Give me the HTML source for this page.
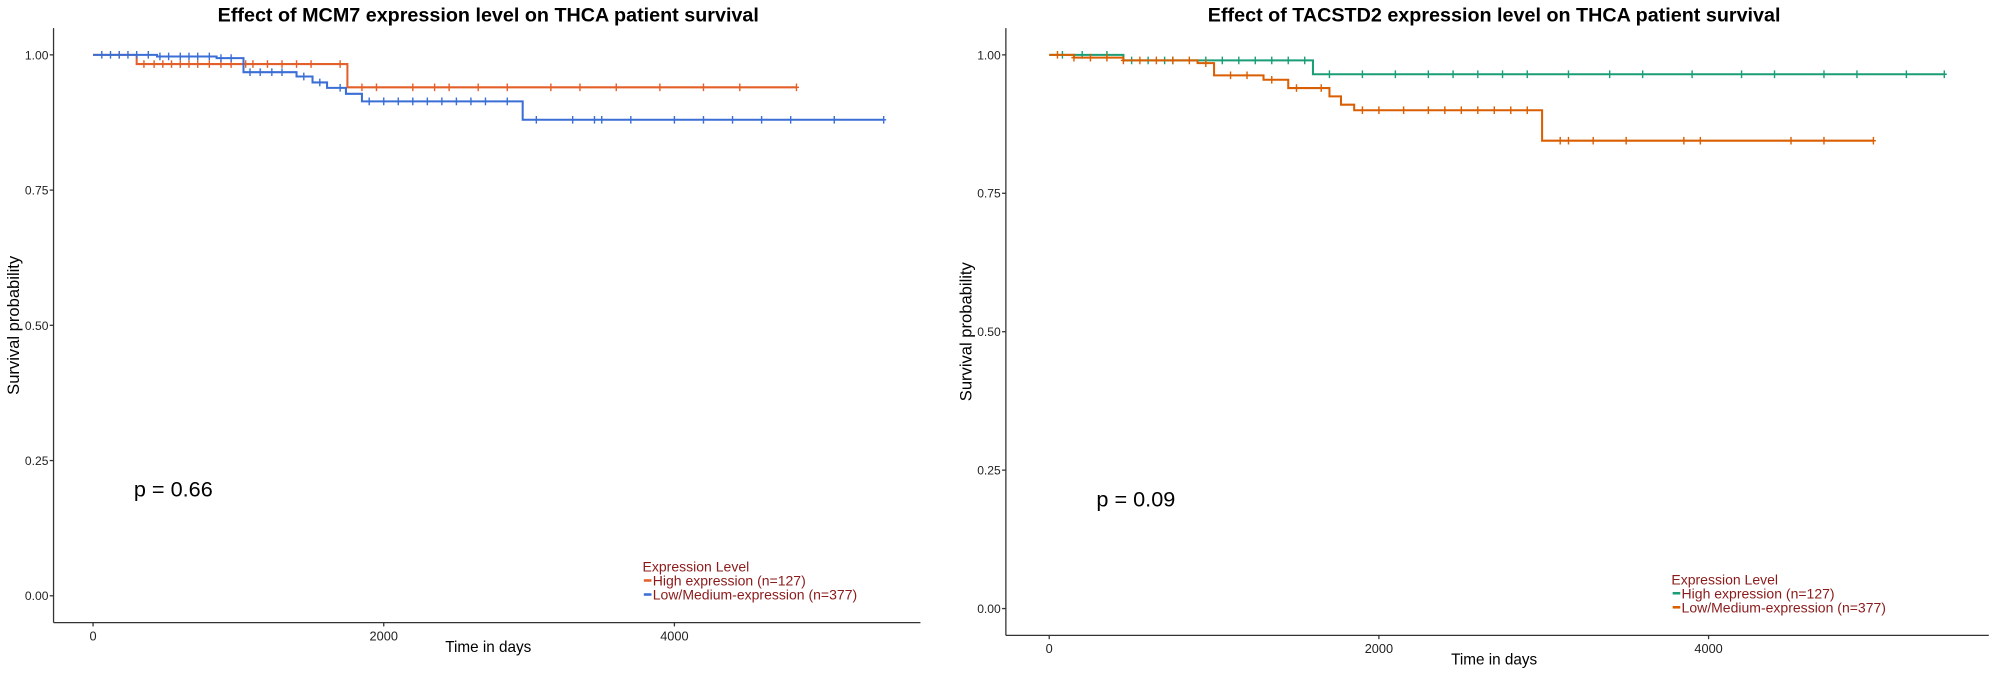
<!DOCTYPE html>
<html><head><meta charset="utf-8"><style>
html,body{margin:0;padding:0;background:#fff;width:1999px;height:680px;overflow:hidden;font-family:"Liberation Sans",sans-serif;}
</style></head><body>
<svg id="chart" width="1999" height="680" viewBox="0 0 1568 533" preserveAspectRatio="none" xmlns="http://www.w3.org/2000/svg" font-family="Liberation Sans, sans-serif"></svg>
<script>
// ---- Data ----
const yTicks = [0, 0.25, 0.5, 0.75, 1.0];
const yTickLabels = ["0.00", "0.25", "0.50", "0.75", "1.00"];
const xTicks = [0, 2000, 4000];
const xTickLabels = ["0", "2000", "4000"];

// Left panel (MCM7)
const mcmHighTimes = [0, 300, 1750, 4840];
const mcmHighSurv = [1.0, 0.983, 0.94, 0.94];
const mcmHighCensor = [180, 350, 420, 480, 540, 600, 660, 720, 800, 880, 950, 1050, 1100, 1200, 1300, 1400, 1500, 1700, 1850, 1950, 2200, 2350, 2450, 2650, 2850, 3150, 3350, 3600, 3900, 4200, 4450, 4840];
const mcmLowTimes = [0, 440, 850, 1035, 1400, 1510, 1610, 1740, 1850, 2956, 5440];
const mcmLowSurv = [1.0, 0.997, 0.994, 0.968, 0.96, 0.949, 0.939, 0.928, 0.914, 0.88, 0.88];
const mcmLowCensor = [60, 120, 180, 240, 300, 380, 460, 520, 600, 660, 720, 800, 880, 950, 1080, 1150, 1230, 1300, 1450, 1560, 1700, 1900, 2000, 2100, 2200, 2300, 2400, 2500, 2600, 2700, 2850, 3050, 3300, 3450, 3500, 3700, 4000, 4200, 4400, 4600, 4800, 5100, 5440];

// Right panel (TACSTD2)
const tacHighTimes = [0, 450, 1600, 5430];
const tacHighSurv = [1.0, 0.99, 0.965, 0.965];
const tacHighCensor = [80, 200, 350, 500, 600, 700, 750, 950, 1050, 1150, 1250, 1350, 1450, 1550, 1700, 1900, 2100, 2300, 2450, 2600, 2750, 2900, 3150, 3400, 3600, 3900, 4200, 4400, 4700, 4900, 5200, 5430];
const tacLowTimes = [0, 150, 450, 900, 1000, 1300, 1450, 1700, 1770, 1850, 2990, 5000];
const tacLowSurv = [1.0, 0.995, 0.99, 0.985, 0.963, 0.955, 0.94, 0.925, 0.91, 0.90, 0.845, 0.845];
const tacLowCensor = [50, 150, 250, 350, 450, 550, 650, 750, 850, 950, 1100, 1200, 1350, 1500, 1650, 1900, 2000, 2150, 2300, 2400, 2500, 2600, 2700, 2800, 2900, 3100, 3150, 3300, 3500, 3850, 3950, 4500, 4700, 5000];

const svg = document.getElementById('chart');
const NS = 'http://www.w3.org/2000/svg';
function mk(tag, attrs, parent) {
  const e = document.createElementNS(NS, tag);
  for (const k in attrs) e.setAttribute(k, attrs[k]);
  (parent || svg).appendChild(e);
  return e;
}

function panel(cfg) {
  const g = mk('g', {});
  
  
  const sx = d => cfg.x0 + d * cfg.pxPerDay;
  const sy = v => cfg.y0 - v * cfg.pxPerUnit;
  const yAxis = mk('line', {x1: cfg.axX, y1: cfg.axTop, x2: cfg.axX, y2: cfg.axY, stroke: '#333', 'stroke-width': 1}, g);
  
  
  const xAxis = mk('line', {x1: cfg.axX, y1: cfg.axY, x2: cfg.axRight, y2: cfg.axY, stroke: '#333', 'stroke-width': 1}, g);
  
  
  yTicks.forEach((v, i) => {
    mk('line', {x1: cfg.axX - 3, y1: sy(v), x2: cfg.axX, y2: sy(v), stroke: '#333'}, g);
    const t = mk('text', {x: cfg.axX - 4, y: sy(v) + 3.5, 'text-anchor': 'end', 'font-size': 9.5, fill: '#222'}, g);
    t.textContent = yTickLabels[i];
    
    
  });
  xTicks.forEach((d, i) => {
    mk('line', {x1: sx(d), y1: cfg.axY, x2: sx(d), y2: cfg.axY + 3, stroke: '#333'}, g);
    const t = mk('text', {x: sx(d), y: cfg.axY + 14, 'text-anchor': 'middle', 'font-size': 10, fill: '#222'}, g);
    t.textContent = xTickLabels[i];
    
    
  });
  const title = mk('text', {x: cfg.cx, y: 17, 'text-anchor': 'middle', 'font-size': 15.5, 'font-weight': 'bold', fill: '#000'}, g);
  title.textContent = cfg.title;
  
  
  const xt = mk('text', {x: cfg.cx, y: cfg.axY + 23, 'text-anchor': 'middle', 'font-size': 12, fill: '#000'}, g);
  xt.textContent = 'Time in days';
  
  
  const ym = (cfg.axTop + cfg.axY) / 2;
  const yt = mk('text', {x: 0, y: 0, 'text-anchor': 'middle', 'font-size': 13, fill: '#000', transform: `translate(${cfg.axX - 27},${ym}) rotate(-90)`}, g);
  yt.textContent = 'Survival probability';
  
  
  cfg.series.forEach(s => {
    let d = `M${sx(s.times[0])},${sy(s.surv[0])}`;
    for (let i = 1; i < s.times.length; i++) {
      d += ` H${sx(s.times[i])} V${sy(s.surv[i])}`;
    }
    const p = mk('path', {d, fill: 'none', stroke: s.color, 'stroke-width': 1.6}, g);
    
    
    s.censor.forEach(c => {
      let v = s.surv[0];
      for (let i = 0; i < s.times.length; i++) if (s.times[i] <= c) v = s.surv[i];
      const m = mk('path', {d: `M${sx(c)},${sy(v) - 3} V${sy(v) + 3} M${sx(c) - 2},${sy(v)} H${sx(c) + 2}`, stroke: s.color, 'stroke-width': 1.1}, g);
      
      
    });
  });
  const pv = mk('text', {x: cfg.pX, y: cfg.pY, 'font-size': 17, fill: '#000'}, g);
  pv.textContent = cfg.pText;
  
  
  const lt = mk('text', {x: cfg.legX, y: cfg.legY, 'font-size': 11, fill: '#8B1A1A'}, g);
  lt.textContent = 'Expression Level';
  
  
  cfg.series.forEach((s, i) => {
    const yy = cfg.legY + 11 * (i + 1);
    const ln = mk('line', {x1: cfg.legX + 1, y1: yy - 4, x2: cfg.legX + 7, y2: yy - 4, stroke: s.color, 'stroke-width': 2}, g);
    
    
    const t = mk('text', {x: cfg.legX + 8, y: yy, 'font-size': 11, fill: '#8B1A1A'}, g);
    t.textContent = s.label;
    
    
  });
}

panel({
  name: 'mcm7-panel', title: 'Effect of MCM7 expression level on THCA patient survival',
  x0: 73, pxPerDay: 0.114, y0: 467, pxPerUnit: 424,
  axX: 42, axTop: 22, axY: 488, axRight: 722, cx: 383,
  pX: 105, pY: 389, pText: 'p = 0.66', legX: 504, legY: 448,
  series: [
    {name: 'mcm7-high', times: mcmHighTimes, surv: mcmHighSurv, censor: mcmHighCensor, color: '#E4602A', label: 'High expression (n=127)'},
    {name: 'mcm7-low', times: mcmLowTimes, surv: mcmLowSurv, censor: mcmLowCensor, color: '#3B6FD6', label: 'Low/Medium-expression (n=377)'}
  ]
});
panel({
  name: 'tacstd2-panel', title: 'Effect of TACSTD2 expression level on THCA patient survival',
  x0: 823, pxPerDay: 0.1293, y0: 477, pxPerUnit: 434,
  axX: 789, axTop: 22, axY: 498, axRight: 1560, cx: 1172,
  pX: 860, pY: 397, pText: 'p = 0.09', legX: 1311, legY: 458,
  series: [
    {name: 'tacstd2-high', times: tacHighTimes, surv: tacHighSurv, censor: tacHighCensor, color: '#1B9E77', label: 'High expression (n=127)'},
    {name: 'tacstd2-low', times: tacLowTimes, surv: tacLowSurv, censor: tacLowCensor, color: '#D95F02', label: 'Low/Medium-expression (n=377)'}
  ]
});
</script>
</body></html>
